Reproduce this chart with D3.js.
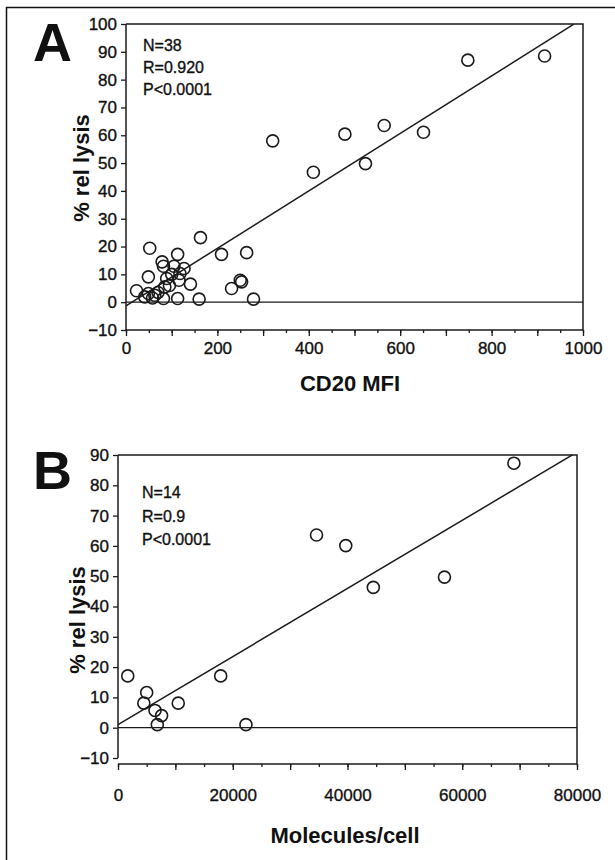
<!DOCTYPE html>
<html><head><meta charset="utf-8">
<script src="https://cdn.jsdelivr.net/npm/d3@7"></script>
<style>
html,body{margin:0;padding:0;background:#fff;}
svg{display:block;}
text{font-family:"Liberation Sans",Arial,sans-serif;fill:#111;}
</style></head>
<body>
<script>
// Panel A data: CD20 MFI vs % rel lysis
const aMFI   = [916,748,321,479,565,651,410,524,163,52,113,209,264,79,82,105,127,118,49,89,116,141,231,250,253,23,85,49,63,41,82,113,160,279,70,95,58,100];
const aLysis = [88.5,87,58,60.4,63.5,61.1,46.7,49.8,23.2,19.4,17.2,17.2,17.8,14.5,12.9,12.9,12.1,10.3,9.1,8.5,7.9,6.5,4.9,7.9,7.3,4.1,5.5,3.1,2.5,1.9,1.3,1.3,1.1,1.1,3.5,6,1.5,10];
const aStats = ["N=38","R=0.920","P<0.0001"];
const aFit = {intercept:-1.3, slope:0.1033, xEnd:980};
const aXTicks = [0,200,400,600,800,1000];
const aYTicks = [-10,0,10,20,30,40,50,60,70,80,90,100];

// Panel B data: Molecules/cell vs % rel lysis
const bMol   = [34600,39700,44500,56900,69000,1700,17900,5000,4500,10500,6450,7600,6850,22300];
const bLysis = [63.6,60.1,46.3,49.7,87.3,17.1,17.1,11.6,8.1,8.1,5.7,4.0,1.0,1.0];
const bStats = ["N=14","R=0.9","P<0.0001"];
const bFit = {intercept:1.0, slope:0.001124, xEnd:79200};
const bXTicks = [0,20000,40000,60000,80000];
const bYTicks = [-10,0,10,20,30,40,50,60,70,80,90];

const W=615,H=860;
const svg=d3.select("body").append("svg").attr("width",W).attr("height",H);
svg.append("rect").attr("width",W).attr("height",H).attr("fill","#fff");
// outer frame (left and top)
svg.append("path").attr("d","M6.5,860 V7.5 H615").attr("fill","none").attr("stroke","#111").attr("stroke-width",1.5);

function heavy(sel){ sel.attr("stroke","#111").attr("stroke-width",0.35); }

function panel(cfg){
  const g=svg.append("g");
  const x=d3.scaleLinear().domain(cfg.xDomain).range([cfg.left,cfg.right]);
  const y=d3.scaleLinear().domain(cfg.yDomain).range([cfg.bottom,cfg.top]);
  const lc="#1a1a1a";
  // y axis
  const yAx=g.append("g").attr("transform",`translate(${cfg.left},0)`)
    .call(d3.axisLeft(y).tickValues(cfg.yTicks).tickSize(5).tickPadding(4).tickFormat(d3.format("d")));
  yAx.select(".domain").attr("stroke",lc).attr("stroke-width",1.5).attr("d",`M0,${y(cfg.yDomain[0])}V${y(cfg.yDomain[1])}`);
  yAx.selectAll(".tick line").attr("stroke",lc).attr("stroke-width",1.3);
  yAx.selectAll("text").attr("font-size",17).attr("fill","#111").call(heavy);
  // x axis minor ticks
  const xAx=g.append("g").attr("transform",`translate(0,${cfg.xAxisY})`)
    .call(d3.axisBottom(x).tickValues(d3.range(cfg.xDomain[0],cfg.xDomain[1]+1e-9,cfg.minorStep)).tickSize(cfg.minorLen).tickFormat(""));
  xAx.select(".domain").attr("stroke",lc).attr("stroke-width",1.5).attr("d",`M${x(cfg.xDomain[0])},0H${x(cfg.xDomain[1])}`);
  xAx.selectAll(".tick line").attr("stroke",lc).attr("stroke-width",1.3);
  const xAx2=g.append("g").attr("transform",`translate(0,${cfg.xAxisY})`)
    .call(d3.axisBottom(x).tickValues(d3.range(cfg.xDomain[0],cfg.xDomain[1]+1e-9,cfg.majorStep)).tickSize(cfg.majorLen).tickFormat(""));
  xAx2.select(".domain").remove();
  xAx2.selectAll(".tick line").attr("stroke",lc).attr("stroke-width",1.3);
  const xLab=g.append("g").attr("transform",`translate(0,${cfg.xAxisY})`)
    .call(d3.axisBottom(x).tickValues(cfg.xTicks).tickSize(0).tickPadding(cfg.xLabPad).tickFormat(d3.format("d")));
  xLab.select(".domain").remove();
  xLab.selectAll("text").attr("font-size",17).attr("fill","#111").call(heavy);
  // box top and right
  g.append("path").attr("fill","none").attr("stroke",lc).attr("stroke-width",1.5)
    .attr("d",`M${cfg.left},${y(cfg.yDomain[1])}H${x(cfg.xDomain[1])}V${cfg.xAxisY}`);
  // zero line
  g.append("line").attr("x1",x(cfg.xDomain[0])).attr("x2",x(cfg.xDomain[1])).attr("y1",y(0)).attr("y2",y(0))
    .attr("stroke",lc).attr("stroke-width",1.3);
  // regression line
  g.append("line").attr("x1",x(0)).attr("y1",y(cfg.fit.intercept))
    .attr("x2",x(cfg.fit.xEnd)).attr("y2",y(cfg.fit.intercept+cfg.fit.slope*cfg.fit.xEnd))
    .attr("stroke",lc).attr("stroke-width",1.5);
  // points
  g.selectAll("circle.pt").data(cfg.xs.map((v,i)=>[v,cfg.ys[i]])).enter().append("circle")
    .attr("cx",d=>x(d[0])).attr("cy",d=>y(d[1])).attr("r",6)
    .attr("fill","none").attr("stroke",lc).attr("stroke-width",1.6);
  // stats
  cfg.stats.forEach((s,i)=>{
    g.append("text").attr("x",cfg.statsX).attr("y",cfg.statsY+i*cfg.statsDy).attr("font-size",16).call(heavy).text(s);
  });
  // titles
  g.append("text").attr("x",cfg.xTitleX).attr("y",cfg.xTitleY).attr("text-anchor","middle")
    .attr("font-size",22).attr("font-weight","bold").text(cfg.xTitle);
  g.append("text").attr("transform",`translate(${cfg.yTitleX},${cfg.yTitleCY}) rotate(-90)`).attr("text-anchor","middle")
    .attr("font-size",22).attr("font-weight","bold").text("% rel lysis");
  g.append("text").attr("x",cfg.letterX).attr("y",cfg.letterY).attr("font-size",54).attr("font-weight","bold").text(cfg.letter);
}

panel({xDomain:[0,1000],yDomain:[-10,100],left:126,right:583,top:24,bottom:330,xAxisY:330,
  xTicks:aXTicks,yTicks:aYTicks,minorStep:50,majorStep:100,minorLen:3,majorLen:6,xLabPad:12,
  xs:aMFI,ys:aLysis,fit:aFit,stats:aStats,statsX:143,statsY:51,statsDy:22,
  xTitle:"CD20 MFI",xTitleX:350,xTitleY:391,yTitleX:89,yTitleCY:168,letter:"A",letterX:33,letterY:61});

panel({xDomain:[0,80000],yDomain:[-10,90],left:118,right:577,top:455,bottom:758,xAxisY:764,
  xTicks:bXTicks,yTicks:bYTicks,minorStep:5000,majorStep:10000,minorLen:3,majorLen:6,xLabPad:25,
  xs:bMol,ys:bLysis,fit:bFit,stats:bStats,statsX:142,statsY:498,statsDy:23.5,
  xTitle:"Molecules/cell",xTitleX:345,xTitleY:843,yTitleX:85,yTitleCY:620,letter:"B",letterX:33,letterY:489});
</script>
</body></html>
